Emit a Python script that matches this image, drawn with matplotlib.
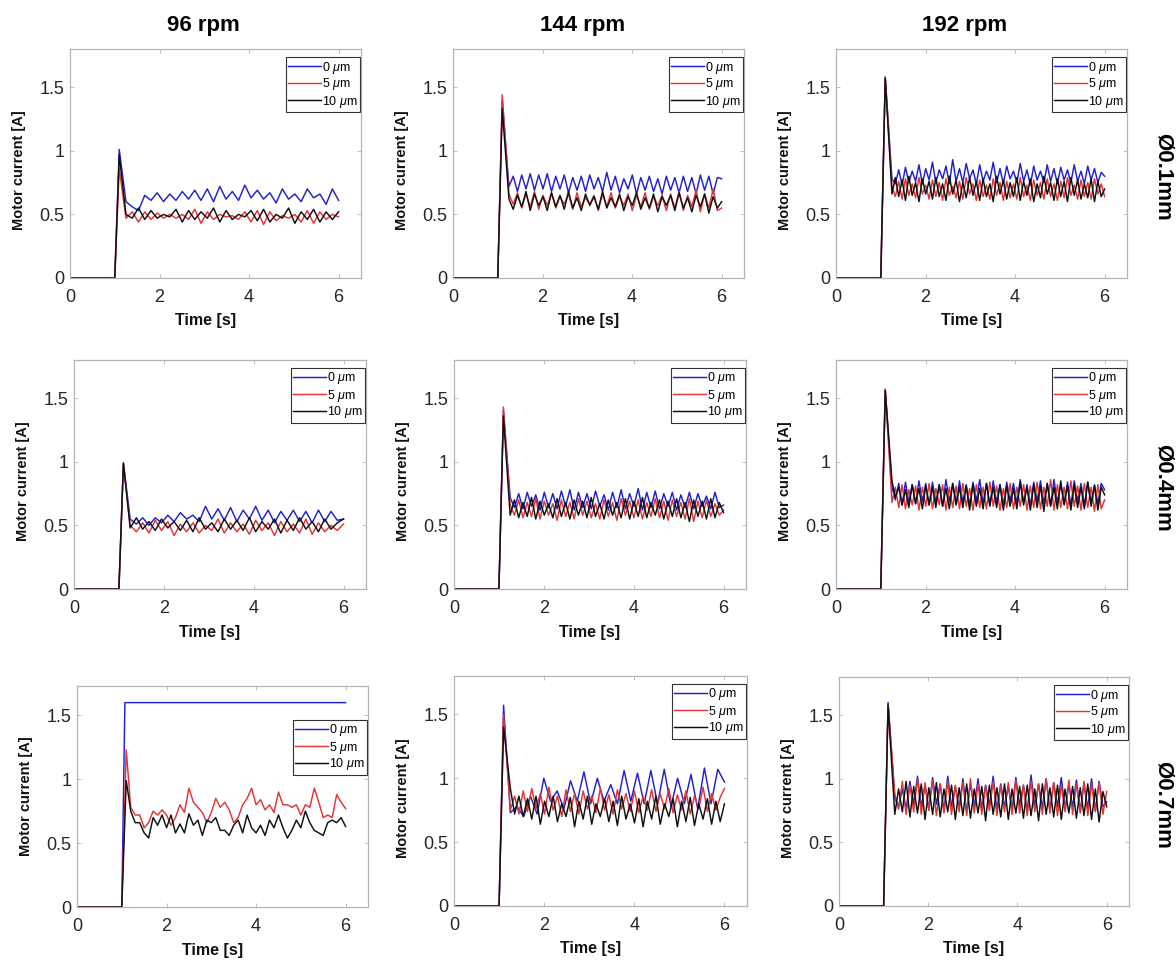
import numpy as np
import matplotlib.pyplot as plt

plt.rcParams['font.family'] = ['Liberation Sans', 'DejaVu Sans']
plt.rcParams['mathtext.fontset'] = 'custom'
plt.rcParams['mathtext.it'] = 'Liberation Sans:italic'
plt.rcParams['mathtext.rm'] = 'Liberation Sans'

# column / row / legend labels
rpm_titles = ['96 rpm', '144 rpm', '192 rpm']
dia_labels = ['Ø0.1mm', 'Ø0.4mm', 'Ø0.7mm']
gap_labels = ['0 $\\mu$m', '5 $\\mu$m', '10 $\\mu$m']
colors = ['#2020d0', '#e03535', '#101010']

t_on = 1.0      # motor switched on
t_peak = 1.1    # inrush peak
t_end = 6.0

# ---- Ø0.1mm ----
peak_96_01 = [1.01, 0.86, 0.97]
b_96_01 = [0.60, 0.56, 0.53, 0.65, 0.61, 0.67, 0.60, 0.66, 0.61, 0.68, 0.62, 0.69, 0.61, 0.70, 0.60, 0.72, 0.62, 0.68,
           0.61, 0.73, 0.63, 0.69, 0.62, 0.67, 0.59, 0.70, 0.62, 0.66, 0.60, 0.70, 0.63, 0.66, 0.58, 0.70, 0.61]
r_96_01 = [0.47, 0.52, 0.44, 0.52, 0.46, 0.51, 0.47, 0.50, 0.47, 0.50, 0.46, 0.54, 0.43, 0.52, 0.46, 0.50, 0.48, 0.49,
           0.46, 0.52, 0.44, 0.53, 0.42, 0.52, 0.45, 0.49, 0.47, 0.50, 0.44, 0.53, 0.43, 0.52, 0.46, 0.50, 0.48]
k_96_01 = [0.50, 0.47, 0.55, 0.46, 0.53, 0.47, 0.50, 0.48, 0.54, 0.44, 0.53, 0.46, 0.52, 0.47, 0.55, 0.44, 0.53, 0.46,
           0.50, 0.48, 0.53, 0.45, 0.54, 0.44, 0.50, 0.47, 0.55, 0.43, 0.52, 0.46, 0.54, 0.44, 0.52, 0.46, 0.52]

peak_144_01 = [1.40, 1.44, 1.33]
b_144_01 = [0.72, 0.80, 0.68, 0.81, 0.70, 0.82, 0.69, 0.81, 0.70, 0.82, 0.68, 0.80, 0.70, 0.81, 0.67, 0.79, 0.69, 0.80,
            0.68, 0.81, 0.70, 0.79, 0.68, 0.83, 0.69, 0.80, 0.67, 0.78, 0.70, 0.81, 0.66, 0.79, 0.69, 0.80, 0.68, 0.78,
            0.66, 0.80, 0.69, 0.79, 0.67, 0.80, 0.68, 0.79, 0.66, 0.81, 0.69, 0.80, 0.66, 0.79, 0.78]
r_144_01 = [0.66, 0.58, 0.67, 0.55, 0.66, 0.56, 0.68, 0.54, 0.65, 0.57, 0.67, 0.55, 0.64, 0.58, 0.66, 0.54, 0.67, 0.56,
            0.63, 0.58, 0.65, 0.53, 0.66, 0.56, 0.67, 0.55, 0.64, 0.57, 0.66, 0.53, 0.65, 0.56, 0.67, 0.54, 0.64, 0.57,
            0.65, 0.53, 0.66, 0.55, 0.68, 0.53, 0.65, 0.56, 0.69, 0.52, 0.66, 0.55, 0.70, 0.53, 0.55]
k_144_01 = [0.62, 0.54, 0.65, 0.56, 0.68, 0.53, 0.66, 0.57, 0.64, 0.53, 0.67, 0.56, 0.65, 0.54, 0.68, 0.55, 0.63, 0.53,
            0.66, 0.57, 0.64, 0.54, 0.68, 0.55, 0.63, 0.56, 0.66, 0.53, 0.64, 0.57, 0.67, 0.54, 0.63, 0.55, 0.66, 0.52,
            0.64, 0.57, 0.65, 0.53, 0.67, 0.55, 0.63, 0.52, 0.65, 0.56, 0.66, 0.51, 0.64, 0.55, 0.60]

peak_192_01 = [1.58, 1.58, 1.57]
b_192_01 = [0.78, 0.74, 0.85, 0.73, 0.87, 0.75, 0.84, 0.76, 0.89, 0.74, 0.86, 0.77, 0.91, 0.75, 0.85, 0.78, 0.88, 0.74,
            0.93, 0.76, 0.86, 0.75, 0.90, 0.78, 0.85, 0.74, 0.89, 0.76, 0.84, 0.77, 0.91, 0.75, 0.86, 0.74, 0.88, 0.78,
            0.84, 0.75, 0.90, 0.76, 0.85, 0.73, 0.88, 0.77, 0.84, 0.75, 0.89, 0.76, 0.86, 0.74, 0.87, 0.77, 0.85, 0.75,
            0.89, 0.76, 0.84, 0.74, 0.88, 0.77, 0.86, 0.75, 0.83, 0.80]
r_192_01 = [0.72, 0.64, 0.76, 0.62, 0.78, 0.65, 0.74, 0.63, 0.79, 0.66, 0.73, 0.62, 0.77, 0.64, 0.75, 0.61, 0.78, 0.65,
            0.72, 0.63, 0.76, 0.62, 0.79, 0.66, 0.74, 0.61, 0.77, 0.64, 0.73, 0.62, 0.78, 0.65, 0.75, 0.61, 0.76, 0.63,
            0.74, 0.62, 0.79, 0.64, 0.73, 0.61, 0.77, 0.65, 0.75, 0.62, 0.78, 0.64, 0.74, 0.61, 0.76, 0.63, 0.79, 0.65,
            0.73, 0.62, 0.77, 0.64, 0.75, 0.62, 0.78, 0.66, 0.74, 0.64]
k_192_01 = [0.66, 0.79, 0.64, 0.77, 0.61, 0.80, 0.65, 0.75, 0.60, 0.78, 0.66, 0.76, 0.62, 0.79, 0.64, 0.74, 0.61, 0.80,
            0.66, 0.77, 0.60, 0.75, 0.63, 0.79, 0.65, 0.76, 0.61, 0.78, 0.64, 0.74, 0.60, 0.80, 0.66, 0.77, 0.62, 0.75,
            0.64, 0.79, 0.61, 0.76, 0.65, 0.78, 0.60, 0.74, 0.63, 0.80, 0.66, 0.75, 0.61, 0.78, 0.64, 0.76, 0.60, 0.79,
            0.65, 0.77, 0.62, 0.74, 0.63, 0.78, 0.60, 0.76, 0.64, 0.70]

# ---- Ø0.4mm ----
peak_96_04 = [0.99, 0.98, 0.99]
b_96_04 = [0.55, 0.51, 0.56, 0.50, 0.56, 0.52, 0.58, 0.53, 0.60, 0.55, 0.58, 0.53, 0.65, 0.55, 0.63, 0.54, 0.64, 0.53,
           0.62, 0.55, 0.65, 0.54, 0.62, 0.52, 0.61, 0.54, 0.62, 0.53, 0.61, 0.52, 0.62, 0.53, 0.61, 0.54, 0.55]
r_96_04 = [0.50, 0.45, 0.52, 0.44, 0.54, 0.46, 0.53, 0.42, 0.51, 0.45, 0.52, 0.44, 0.50, 0.46, 0.55, 0.44, 0.52, 0.45,
           0.51, 0.43, 0.54, 0.46, 0.52, 0.42, 0.53, 0.45, 0.51, 0.44, 0.55, 0.43, 0.52, 0.45, 0.50, 0.46, 0.51]
k_96_04 = [0.48, 0.56, 0.47, 0.53, 0.46, 0.55, 0.48, 0.53, 0.46, 0.54, 0.45, 0.56, 0.47, 0.52, 0.45, 0.55, 0.47, 0.54,
           0.46, 0.56, 0.45, 0.53, 0.47, 0.55, 0.44, 0.54, 0.46, 0.56, 0.47, 0.53, 0.45, 0.55, 0.47, 0.52, 0.55]

peak_144_04 = [1.40, 1.43, 1.36]
b_144_04 = [0.72, 0.64, 0.75, 0.63, 0.76, 0.65, 0.74, 0.62, 0.76, 0.64, 0.75, 0.63, 0.77, 0.65, 0.78, 0.62, 0.76, 0.64,
            0.75, 0.63, 0.77, 0.65, 0.74, 0.62, 0.76, 0.64, 0.78, 0.63, 0.75, 0.65, 0.79, 0.62, 0.76, 0.64, 0.77, 0.63,
            0.75, 0.65, 0.76, 0.62, 0.74, 0.64, 0.76, 0.63, 0.75, 0.65, 0.73, 0.63, 0.76, 0.64, 0.66]
r_144_04 = [0.66, 0.58, 0.70, 0.56, 0.68, 0.57, 0.71, 0.55, 0.69, 0.58, 0.67, 0.54, 0.70, 0.57, 0.68, 0.55, 0.71, 0.58,
            0.69, 0.56, 0.67, 0.55, 0.70, 0.57, 0.68, 0.54, 0.71, 0.58, 0.69, 0.56, 0.70, 0.55, 0.68, 0.57, 0.71, 0.56,
            0.69, 0.54, 0.70, 0.57, 0.68, 0.55, 0.71, 0.53, 0.69, 0.56, 0.70, 0.57, 0.67, 0.58, 0.62]
k_144_04 = [0.58, 0.70, 0.56, 0.68, 0.57, 0.72, 0.55, 0.69, 0.58, 0.67, 0.56, 0.71, 0.57, 0.68, 0.55, 0.70, 0.58, 0.69,
            0.56, 0.72, 0.57, 0.67, 0.55, 0.70, 0.58, 0.68, 0.56, 0.71, 0.55, 0.69, 0.57, 0.72, 0.56, 0.68, 0.58, 0.70,
            0.55, 0.69, 0.57, 0.71, 0.56, 0.68, 0.53, 0.70, 0.57, 0.69, 0.55, 0.71, 0.56, 0.68, 0.60]

peak_192_04 = [1.57, 1.57, 1.56]
b_192_04 = [0.80, 0.70, 0.83, 0.66, 0.84, 0.68, 0.82, 0.67, 0.85, 0.69, 0.83, 0.66, 0.84, 0.68, 0.82, 0.65, 0.86, 0.69,
            0.83, 0.67, 0.85, 0.68, 0.82, 0.66, 0.84, 0.69, 0.86, 0.67, 0.83, 0.65, 0.85, 0.68, 0.82, 0.66, 0.84, 0.69,
            0.83, 0.67, 0.86, 0.68, 0.82, 0.65, 0.84, 0.69, 0.85, 0.67, 0.83, 0.66, 0.86, 0.68, 0.82, 0.67, 0.84, 0.65,
            0.85, 0.69, 0.83, 0.66, 0.84, 0.68, 0.82, 0.67, 0.83, 0.78]
r_192_04 = [0.68, 0.80, 0.64, 0.82, 0.63, 0.78, 0.66, 0.81, 0.62, 0.80, 0.65, 0.83, 0.63, 0.79, 0.66, 0.82, 0.62, 0.80,
            0.64, 0.81, 0.63, 0.83, 0.65, 0.79, 0.62, 0.82, 0.64, 0.80, 0.63, 0.84, 0.65, 0.81, 0.62, 0.79, 0.64, 0.83,
            0.63, 0.80, 0.65, 0.82, 0.62, 0.81, 0.64, 0.84, 0.63, 0.80, 0.65, 0.86, 0.62, 0.82, 0.64, 0.80, 0.63, 0.85,
            0.65, 0.81, 0.62, 0.83, 0.64, 0.80, 0.61, 0.82, 0.63, 0.70]
k_192_04 = [0.85, 0.72, 0.80, 0.66, 0.78, 0.64, 0.82, 0.67, 0.79, 0.63, 0.81, 0.66, 0.80, 0.64, 0.82, 0.65, 0.79, 0.63,
            0.83, 0.66, 0.80, 0.64, 0.81, 0.62, 0.82, 0.65, 0.79, 0.63, 0.83, 0.66, 0.80, 0.64, 0.82, 0.62, 0.81, 0.65,
            0.79, 0.63, 0.84, 0.66, 0.80, 0.62, 0.82, 0.64, 0.81, 0.61, 0.83, 0.65, 0.80, 0.63, 0.85, 0.66, 0.81, 0.62,
            0.82, 0.64, 0.80, 0.63, 0.84, 0.65, 0.81, 0.62, 0.80, 0.74]

# ---- Ø0.7mm ----
peak_96_07 = [1.60, 1.23, 0.99]
b_96_07 = [1.60, 1.60]
r_96_07 = [0.78, 0.72, 0.72, 0.62, 0.66, 0.75, 0.72, 0.76, 0.72, 0.64, 0.70, 0.80, 0.74, 0.93, 0.82, 0.78, 0.74, 0.66,
           0.74, 0.85, 0.78, 0.82, 0.76, 0.66, 0.70, 0.80, 0.85, 0.93, 0.80, 0.84, 0.76, 0.80, 0.74, 0.90, 0.80, 0.80,
           0.78, 0.80, 0.72, 0.80, 0.78, 0.93, 0.82, 0.70, 0.72, 0.70, 0.88, 0.82, 0.77]
k_96_07 = [0.75, 0.66, 0.66, 0.58, 0.54, 0.70, 0.64, 0.72, 0.62, 0.72, 0.58, 0.65, 0.58, 0.73, 0.64, 0.68, 0.56, 0.68,
           0.66, 0.70, 0.60, 0.60, 0.56, 0.64, 0.68, 0.58, 0.72, 0.62, 0.58, 0.64, 0.56, 0.68, 0.62, 0.72, 0.62, 0.54,
           0.60, 0.68, 0.62, 0.75, 0.66, 0.60, 0.58, 0.56, 0.66, 0.68, 0.66, 0.70, 0.63]

peak_144_07 = [1.57, 1.50, 1.40]
b_144_07 = [0.73, 0.78, 0.70, 0.86, 0.72, 1.00, 0.82, 0.90, 0.76, 0.98, 0.82, 1.05, 0.80, 1.00, 0.82, 0.95, 0.80, 1.06,
            0.82, 1.04, 0.80, 1.06, 0.80, 1.07, 0.78, 1.00, 0.80, 1.03, 0.76, 1.08, 0.80, 1.07, 0.97]
r_144_07 = [0.75, 0.86, 0.72, 0.90, 0.74, 0.92, 0.76, 0.88, 0.72, 0.93, 0.75, 0.86, 0.70, 0.91, 0.74, 0.88, 0.72, 0.90,
            0.76, 0.86, 0.73, 0.92, 0.75, 0.87, 0.72, 0.91, 0.76, 0.88, 0.74, 0.90, 0.73, 0.86, 0.75, 0.91, 0.74, 0.88,
            0.76, 0.92, 0.73, 0.87, 0.75, 0.90, 0.72, 0.86, 0.76, 0.93, 0.74, 0.88, 0.75, 0.85, 0.92]
k_144_07 = [0.92, 0.72, 0.86, 0.70, 0.84, 0.68, 0.86, 0.64, 0.82, 0.70, 0.86, 0.66, 0.80, 0.70, 0.85, 0.62, 0.82, 0.68,
            0.86, 0.64, 0.80, 0.70, 0.84, 0.66, 0.82, 0.63, 0.86, 0.68, 0.80, 0.65, 0.84, 0.62, 0.82, 0.68, 0.86, 0.64,
            0.80, 0.70, 0.84, 0.62, 0.82, 0.66, 0.85, 0.63, 0.80, 0.68, 0.84, 0.64, 0.82, 0.66, 0.80]

peak_192_07 = [1.60, 1.59, 1.58]
b_192_07 = [0.85, 0.78, 0.92, 0.76, 0.98, 0.80, 1.02, 0.78, 0.95, 0.76, 1.01, 0.80, 0.96, 0.75, 1.02, 0.78, 0.94, 0.77,
            1.00, 0.74, 0.96, 0.78, 1.00, 0.76, 0.95, 0.79, 1.02, 0.75, 0.96, 0.78, 0.94, 0.76, 1.01, 0.79, 0.95, 0.74,
            1.03, 0.78, 0.96, 0.77, 1.00, 0.75, 0.97, 0.78, 1.01, 0.76, 0.95, 0.78, 0.99, 0.74, 0.96, 0.77, 1.00, 0.75,
            0.98, 0.78, 0.82]
r_192_07 = [0.88, 0.76, 0.98, 0.72, 0.95, 0.74, 1.00, 0.72, 0.97, 0.75, 0.99, 0.71, 0.96, 0.73, 0.98, 0.72, 0.95, 0.74,
            0.97, 0.71, 1.00, 0.73, 0.96, 0.72, 0.94, 0.75, 0.98, 0.71, 0.95, 0.74, 0.97, 0.72, 0.99, 0.73, 0.95, 0.71,
            0.98, 0.74, 0.96, 0.72, 1.00, 0.73, 0.97, 0.71, 0.95, 0.74, 0.99, 0.72, 0.96, 0.73, 0.98, 0.71, 0.96, 0.74,
            0.97, 0.72, 0.90]
k_192_07 = [0.72, 0.92, 0.74, 0.98, 0.70, 0.94, 0.73, 0.96, 0.68, 0.93, 0.72, 0.97, 0.70, 0.92, 0.74, 0.95, 0.68, 0.93,
            0.71, 0.96, 0.69, 0.92, 0.73, 0.94, 0.67, 0.95, 0.72, 0.93, 0.70, 0.96, 0.68, 0.92, 0.73, 0.94, 0.69, 0.95,
            0.71, 0.92, 0.67, 0.96, 0.72, 0.93, 0.70, 0.95, 0.68, 0.92, 0.73, 0.94, 0.69, 0.93, 0.71, 0.96, 0.68, 0.92,
            0.66, 0.90, 0.78]

# start of the steady part of each record (s)
settle_96_07 = [1.12, 1.2, 1.2]

panels = [
    [(peak_96_01, [b_96_01, r_96_01, k_96_01], None),
     (peak_144_01, [b_144_01, r_144_01, k_144_01], None),
     (peak_192_01, [b_192_01, r_192_01, k_192_01], None)],
    [(peak_96_04, [b_96_04, r_96_04, k_96_04], None),
     (peak_144_04, [b_144_04, r_144_04, k_144_04], None),
     (peak_192_04, [b_192_04, r_192_04, k_192_04], None)],
    [(peak_96_07, [b_96_07, r_96_07, k_96_07], settle_96_07),
     (peak_144_07, [b_144_07, r_144_07, k_144_07], None),
     (peak_192_07, [b_192_07, r_192_07, k_192_07], None)],
]

# axes boxes in pixels: left, top, right, bottom
W, H = 1176, 960
boxes = [
    [(70, 49, 361, 278), (453, 49, 744, 278), (836, 49, 1127, 278)],
    [(74, 360, 366, 589), (454, 360, 746, 589), (836, 360, 1127, 589)],
    [(77, 686, 368, 907), (454, 676, 747, 906), (839, 677, 1129, 906)],
]
title_x = [203, 583, 965]
row_label_y = [177, 488, 805]

fig = plt.figure(figsize=(W / 100, H / 100), dpi=100)
frame_col = '#b4b4b4'
text_col = '#262626'

for i in range(3):
    for j in range(3):
        l, t, r, b = boxes[i][j]
        ax = fig.add_axes([l / W, 1 - b / H, (r - l) / W, (b - t) / H])
        peaks, series, settle = panels[i][j]
        for n in range(3):
            osc = series[n]
            t0 = 1.25 if settle is None else settle[n]
            tp = t_peak if not (i == 2 and j == 0 and n == 0) else 1.07
            tt = np.r_[0.0, t_on, tp, np.linspace(t0, t_end, len(osc))]
            yy = np.r_[0.0, 0.0, peaks[n], osc]
            ax.plot(tt, yy, color=colors[n], lw=1.05, label=gap_labels[n])

        ax.set_xlim(0, 6.5)
        ymax = 1.73 if (i == 2 and j == 0) else 1.8
        ax.set_ylim(0, ymax)
        ax.set_xticks([0, 2, 4, 6])
        ax.set_yticks([0, 0.5, 1, 1.5])
        ax.set_yticklabels(['0', '0.5', '1', '1.5'])
        ax.tick_params(direction='in', top=True, right=True, length=3, width=0.6,
                       color=frame_col, labelcolor=text_col, labelsize=13)
        ax.tick_params(axis='x', pad=8)
        ax.tick_params(axis='y', pad=4)
        for sp in ax.spines.values():
            sp.set_color(frame_col)
            sp.set_linewidth(0.9)

        ax.set_xlabel('Time [s]', fontsize=11.5, fontweight='bold', color='#111111', va='center')
        ax.xaxis.set_label_coords(0.465, -43 / (b - t))
        ax.set_ylabel('Motor current [A]', fontsize=10.5, fontweight='bold', color='#111111', va='center')
        ax.yaxis.set_label_coords(-0.175, 0.47 if not (i == 2 and j == 0) else 0.5)

        if i == 2 and j == 0:
            anchor = (1 - 1 / (r - l), 1 - 34 / (b - t))
        else:
            anchor = (1 - 1 / (r - l), 1 - 8 / (b - t))
        leg = ax.legend(loc='upper right', bbox_to_anchor=anchor, fontsize=9,
                        handlelength=2.6, handletextpad=0.1, borderpad=0.2,
                        labelspacing=0.08, borderaxespad=0, fancybox=False,
                        framealpha=1, edgecolor='#333333')
        leg.get_frame().set_linewidth(0.8)

for j in range(3):
    fig.text(title_x[j] / W, 1 - 25 / H, rpm_titles[j], ha='center', va='center',
             fontsize=16, fontweight='bold')
for i in range(3):
    fig.text(1163 / W, 1 - row_label_y[i] / H, dia_labels[i], ha='center', va='center',
             rotation=270, fontsize=16, fontweight='bold')

fig.savefig('out.png', dpi=100)
